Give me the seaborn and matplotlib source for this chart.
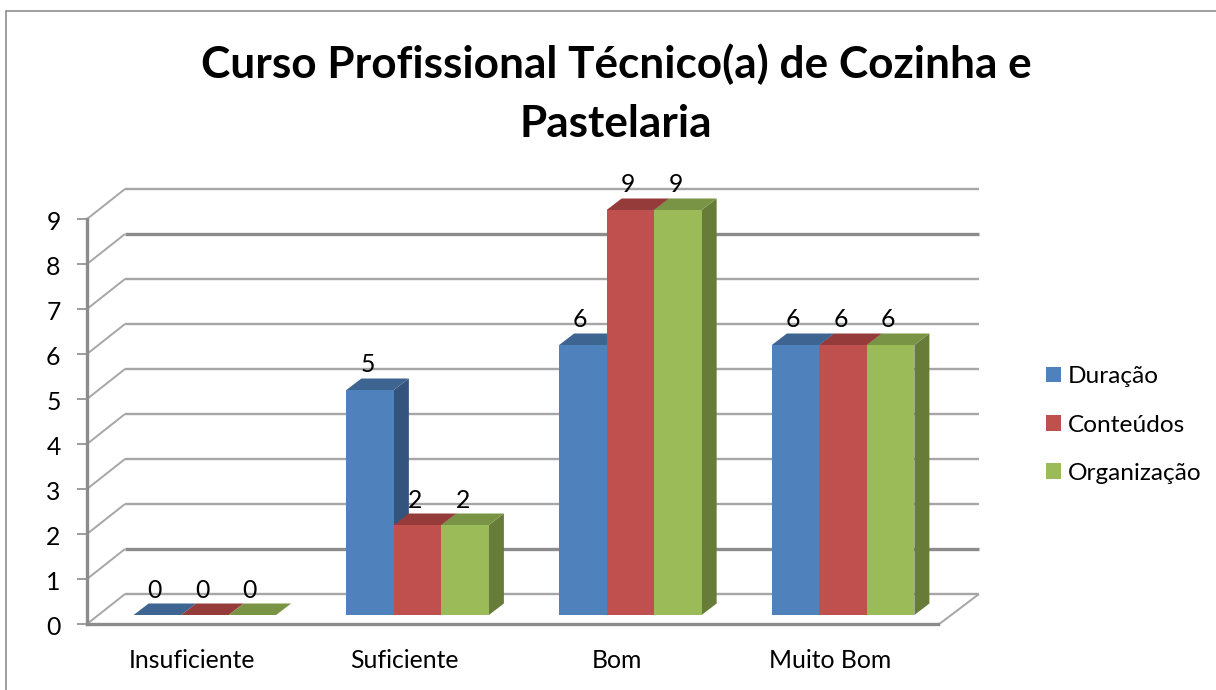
import matplotlib
matplotlib.use("Agg")
import matplotlib.pyplot as plt
from matplotlib.lines import Line2D
from matplotlib.patches import Polygon
from matplotlib.transforms import Affine2D, IdentityTransform
import pandas as pd
import seaborn as sns

categories = ["Insuficiente", "Suficiente", "Bom", "Muito Bom"]
duracao = [0, 5, 6, 6]
conteudos = [0, 2, 9, 6]
organizacao = [0, 2, 9, 6]
title = "Curso Profissional Técnico(a) de Cozinha e\nPastelaria"
series_names = ["Duração", "Conteúdos", "Organização"]
front_colors = ["#4F81BD", "#C0504D", "#9BBB59"]
top_colors = ["#3E6592", "#953C3A", "#7A9445"]
side_colors = ["#34547D", "#7E3231", "#667C38"]

W, H = 1216, 690
GRID = "#A6A6A6"
AXIS = "#8C8C8C"
LABEL_SIZE = 17.8

sns.set_theme(style="white")
plt.rcParams["font.family"] = ["Lato", "DejaVu Sans"]

df = pd.DataFrame({
    "categoria": categories * 3,
    "serie": sum([[n] * 4 for n in series_names], []),
    "valor": duracao + conteudos + organizacao,
})

fig = plt.figure(figsize=(W / 100, H / 100), dpi=100, facecolor="white")
ax = fig.add_axes([87 / W, (H - 624) / H, 851 / W, 405 / H])
sns.barplot(data=df, x="categoria", y="valor", hue="serie", hue_order=series_names,
            order=categories, palette=front_colors, saturation=1, width=0.67, gap=0,
            errorbar=None, ax=ax)
ax.set_xlim(-0.5, 3.5)
ax.set_ylim(0, 9)
ax.set_yticks(range(10))
ax.set_xlabel("")
ax.set_ylabel("")
ax.patch.set_alpha(0)
ax.set_axisbelow(False)
for s in ["top", "right"]:
    ax.spines[s].set_visible(False)
for s in ["left", "bottom"]:
    ax.spines[s].set_color(AXIS)
    ax.spines[s].set_linewidth(2.4)
    ax.spines[s].set_zorder(2)
ax.tick_params(axis="y", length=7.5, width=1.2, color=AXIS, left=True, pad=11.5, labelsize=LABEL_SIZE, labelcolor="black")
ax.tick_params(axis="x", length=0, pad=18, labelsize=LABEL_SIZE, labelcolor="black")

idt = IdentityTransform()
fig.canvas.draw()
for lab in ax.get_yticklabels():
    lab.set_transform(lab.get_transform() + Affine2D().translate(0, -1.5))
for lab in ax.get_xticklabels():
    lab.set_transform(lab.get_transform() + Affine2D().translate(-1.5, 0))


def disp(x, y, dx=0, dy=0):
    px, py = ax.transData.transform((x, y))
    return px + dx, py + dy


def add_line(p0, p1, color=GRID, lw=1.4, z=1):
    ax.add_artist(Line2D([p0[0], p1[0]], [p0[1], p1[1]], color=color, lw=lw, transform=idt,
                         clip_on=False, zorder=z, solid_capstyle="butt"))


# back wall grid and side wall diagonals
BX, BY = 38, 30
heavy = [1, 8]
for k in range(10):
    start = disp(-0.5, k)
    back = disp(-0.5, k, BX, BY)
    end = disp(3.5, k, 41, BY)
    add_line(start, back)
    add_line(back, end, color=AXIS if k in heavy else GRID, lw=2.4 if k in heavy else 1.7)
add_line(disp(3.5, 0, 0, -1), disp(3.5, 0, 41, BY))

# bars: shift the front faces onto the mid plane and add depth faces
SX, SY = 11.5, 9
DX, DY = 15, 11.5
shift = ax.transData + Affine2D().translate(SX, SY)
for j, cont in enumerate(ax.containers):
    for bar in cont:
        bar.set_transform(shift)
        bar.set_clip_on(False)
        bar.set_zorder(4 + 2 * j)
        bar.set_linewidth(0)
        x0, x1 = bar.get_x(), bar.get_x() + bar.get_width()
        v = bar.get_height()
        a = disp(x0, v, SX, SY)
        b = disp(x1, v, SX, SY)
        c = disp(x1, 0, SX, SY)
        top = [a, b, (b[0] + DX, b[1] + DY), (a[0] + DX, a[1] + DY)]
        side = [c, b, (b[0] + DX, b[1] + DY), (c[0] + DX, c[1] + DY)]
        ax.add_patch(Polygon(side, closed=True, fc=side_colors[j], ec="none", transform=idt,
                             clip_on=False, zorder=3 + 2 * j))
        ax.add_patch(Polygon(top, closed=True, fc=top_colors[j], ec="none", transform=idt,
                             clip_on=False, zorder=3.5 + 2 * j))
        ax.annotate(f"{v:.0f}", xy=((x0 + x1) / 2, v), xytext=(SX - 2.5, SY + 25),
                    textcoords="offset pixels", ha="center", va="center",
                    fontsize=LABEL_SIZE, color="black", zorder=20, annotation_clip=False)

# legend
ax.get_legend().remove()
handles = [plt.Rectangle((0, 0), 1, 1, fc=c, ec="none") for c in front_colors]
fig.legend(handles, series_names, loc="center left", bbox_to_anchor=(1046 / W, 1 - 425 / H),
           frameon=False, fontsize=17.6, handlelength=0.62, handleheight=0.62, handletextpad=0.29,
           labelspacing=1.12, borderpad=0, borderaxespad=0, labelcolor="black")

# title
fig.text(616 / W, 1 - 93.5 / H, title, ha="center", va="center", fontsize=31.8, fontweight="bold",
         color="black", linespacing=1.58)

# chart area frame (only top and left visible)
fig.add_artist(Line2D([5.5 / W, 5.5 / W, 1], [0, 1 - 10.5 / H, 1 - 10.5 / H], color=AXIS, lw=1.2,
                      transform=fig.transFigure, solid_joinstyle="miter"))

fig.savefig("out.png", dpi=100, facecolor="white")
